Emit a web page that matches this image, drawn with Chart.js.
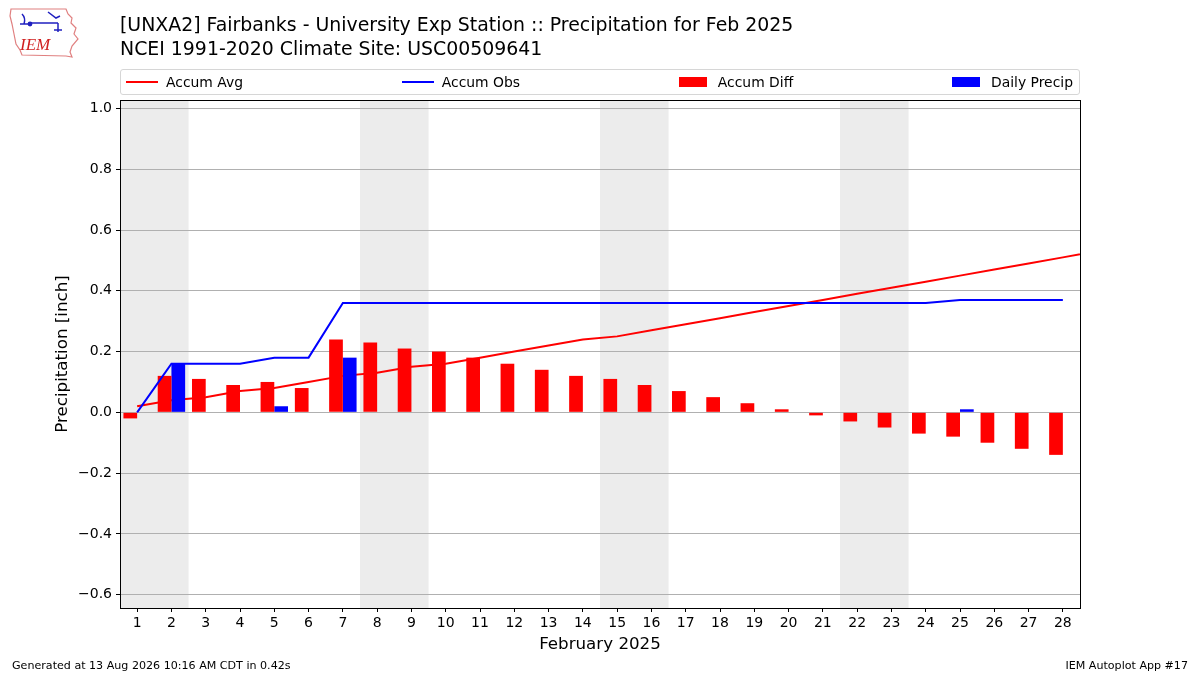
<!DOCTYPE html>
<html>
<head>
<meta charset="utf-8">
<script src="https://cdn.jsdelivr.net/npm/chart.js@4.4.1/dist/chart.umd.min.js"></script>
<style>
  body { margin: 0; background: #fff; font-family: "DejaVu Sans", sans-serif; }
  #wrap { position: relative; width: 1200px; height: 675px; overflow: hidden; }
  #chart { position: absolute; left: 0; top: 0; }
  .title { position: absolute; left: 120px; top: 12px; font-size: 18.9px; line-height: 24px; color: #000; white-space: nowrap; }
  .legend { position: absolute; left: 120px; top: 69px; width: 960px; height: 26px; border: 1px solid #d6d6d6; border-radius: 3px;
            display: flex; justify-content: space-between; align-items: center; padding: 0 6px 0 5px; box-sizing: border-box; font-size: 13.9px; }
  .legend .item { display: flex; align-items: center; white-space: nowrap; }
  .legend .line { width: 32px; height: 2px; margin-right: 8px; }
  .legend .patch { width: 28px; height: 10px; margin-right: 11px; }
  .foot { position: absolute; top: 659px; font-size: 11.1px; color: #000; white-space: nowrap; }
  #logo { position: absolute; left: 8px; top: 6px; }
</style>
</head>
<body>
<div id="wrap">
  <canvas id="chart" width="1200" height="675"></canvas>
  <svg id="logo" width="72" height="54" viewBox="0 0 72 54">
    <path d="M3 3 L58 3 L60 8 L64 12 L63 17 L68 22 L66 28 L70 33 L64 40 L62 46 L64 51 L58 50 L14 49 L12 44 L8 38 L6 28 L4 18 L2 10 Z"
          fill="none" stroke="#e08080" stroke-width="1.2"/>
    <path d="M14 8 Q18 12 16 18 M12 18 L22 18 M22 17 L50 17 M40 6 L48 12 L52 10 M50 17 L50 26 M46 24 L54 24"
          fill="none" stroke="#2020c0" stroke-width="1.5"/>
    <circle cx="22" cy="18" r="2.4" fill="#2020c0"/>
    <text x="12" y="44" font-family="Liberation Serif, serif" font-style="italic" font-size="17" fill="#d02020">IEM</text>
  </svg>
  <div class="title">[UNXA2] Fairbanks - University Exp Station :: Precipitation for Feb 2025<br>NCEI 1991-2020 Climate Site: USC00509641</div>
  <div class="legend" id="legend"></div>
  <div class="foot" style="left:12px">Generated at 13 Aug 2026 10:16 AM CDT in 0.42s</div>
  <div class="foot" style="right:12px">IEM Autoplot App #17</div>
</div>
<script>
// days of February 2025
const days = [1, 2, 3, 4, 5, 6, 7, 8, 9, 10, 11, 12, 13, 14, 15, 16, 17, 18, 19, 20, 21, 22, 23, 24, 25, 26, 27, 28];
// climatology accumulation, runs one day past the month end
const accumAvg = [0.02, 0.04, 0.05, 0.07, 0.08, 0.10, 0.12, 0.13, 0.15, 0.16, 0.18, 0.20, 0.22, 0.24, 0.25,
                  0.27, 0.29, 0.31, 0.33, 0.35, 0.37, 0.39, 0.41, 0.43, 0.45, 0.47, 0.49, 0.51, 0.53];
const accumObs = [0.00, 0.16, 0.16, 0.16, 0.18, 0.18, 0.36, 0.36, 0.36, 0.36, 0.36, 0.36, 0.36, 0.36,
                  0.36, 0.36, 0.36, 0.36, 0.36, 0.36, 0.36, 0.36, 0.36, 0.36, 0.37, 0.37, 0.37, 0.37];
const accumDiff = [-0.02, 0.12, 0.11, 0.09, 0.10, 0.08, 0.24, 0.23, 0.21, 0.20, 0.18, 0.16, 0.14, 0.12,
                   0.11, 0.09, 0.07, 0.05, 0.03, 0.01, -0.01, -0.03, -0.05, -0.07, -0.08, -0.10, -0.12, -0.14];
const dailyPrecip = [0, 0.16, 0, 0, 0.02, 0, 0.18, 0, 0, 0, 0, 0, 0, 0,
                     0, 0, 0, 0, 0, 0, 0, 0, 0, 0, 0.01, 0, 0, 0];
const weekendDays = [1, 2, 8, 9, 15, 16, 22, 23];
const yTicks = [-0.6, -0.4, -0.2, 0.0, 0.2, 0.4, 0.6, 0.8, 1.0];

const FONT = "DejaVu Sans";
const RED = "#ff0000";
const BLUE = "#0000ff";

// legend, laid out like matplotlib's expanded legend
const legendItems = [
    { label: "Accum Avg", color: RED, kind: "line" },
    { label: "Accum Obs", color: BLUE, kind: "line" },
    { label: "Accum Diff", color: RED, kind: "patch" },
    { label: "Daily Precip", color: BLUE, kind: "patch" }
];
const legendEl = document.getElementById("legend");
legendItems.forEach(it => {
    const d = document.createElement("div");
    d.className = "item";
    d.innerHTML = `<span class="${it.kind}" style="background:${it.color}"></span><span>${it.label}</span>`;
    legendEl.appendChild(d);
});

// grey shading behind weekend days
const weekendShade = {
    id: "weekendShade",
    beforeDraw(chart) {
        const { ctx, chartArea, scales: { x } } = chart;
        ctx.save();
        ctx.fillStyle = "#ececec";
        let i = 0;
        while (i < weekendDays.length) {
            let j = i;
            while (j + 1 < weekendDays.length && weekendDays[j + 1] === weekendDays[j] + 1) j++;
            const x0 = x.getPixelForValue(weekendDays[i] - 0.5);
            const x1 = x.getPixelForValue(weekendDays[j] + 0.5);
            const l = Math.max(x0, chartArea.left), r = Math.min(x1, chartArea.right);
            ctx.fillRect(l, chartArea.top, r - l, chartArea.bottom - chartArea.top);
            i = j + 1;
        }
        ctx.restore();
    }
};

// black box around the plot area
const frame = {
    id: "frame",
    afterDraw(chart) {
        const { ctx, chartArea: a } = chart;
        ctx.save();
        ctx.strokeStyle = "#000";
        ctx.lineWidth = 1;
        ctx.strokeRect(Math.round(a.left) + 0.5, Math.round(a.top) + 0.5,
                       Math.round(a.right - a.left), Math.round(a.bottom - a.top));
        ctx.restore();
    }
};

const fmt = v => (v < -1e-9 ? "\u2212" : "") + Math.abs(v).toFixed(1);

new Chart(document.getElementById("chart"), {
    type: "bar",
    data: {
        datasets: [
            {
                type: "line", label: "Accum Avg",
                data: accumAvg.map((v, i) => ({ x: i + 1, y: v })),
                borderColor: RED, borderWidth: 2, pointRadius: 0, tension: 0, order: 2
            },
            {
                type: "line", label: "Accum Obs",
                data: days.map((d, i) => ({ x: d, y: accumObs[i] })),
                borderColor: BLUE, borderWidth: 2, pointRadius: 0, tension: 0, order: 0
            },
            {
                label: "Accum Diff",
                data: days.map((d, i) => ({ x: d, y: accumDiff[i] })),
                backgroundColor: RED, borderWidth: 0, order: 1,
                categoryPercentage: 0.8, barPercentage: 1.0
            },
            {
                label: "Daily Precip",
                data: days.map((d, i) => ({ x: d, y: dailyPrecip[i] })),
                backgroundColor: BLUE, borderWidth: 0, order: 1,
                categoryPercentage: 0.8, barPercentage: 1.0
            }
        ]
    },
    options: {
        responsive: false,
        animation: false,
        devicePixelRatio: 1,
        layout: { padding: { left: 53, top: 100, right: 120, bottom: 20 } },
        plugins: {
            legend: { display: false },
            tooltip: { enabled: false },
            title: { display: false }
        },
        scales: {
            x: {
                type: "linear",
                min: 0.5, max: 28.5,
                offset: false,
                afterBuildTicks: s => { s.ticks = days.map(d => ({ value: d })); },
                afterFit: s => { s.height = 47; },
                ticks: {
                    autoSkip: false, maxRotation: 0, padding: 3,
                    color: "#000", font: { family: FONT, size: 14 },
                    callback: v => String(v)
                },
                grid: { offset: false, drawOnChartArea: false, color: "#000", tickLength: 4 },
                border: { display: false },
                title: {
                    display: true, text: "February 2025", color: "#000",
                    font: { family: FONT, size: 16.7 }, padding: { top: 0, bottom: 0 }
                }
            },
            y: {
                min: -0.644, max: 1.028,
                afterBuildTicks: s => { s.ticks = yTicks.map(v => ({ value: v })); },
                afterFit: s => { s.width = 67; },
                ticks: {
                    padding: 4, color: "#000", font: { family: FONT, size: 14 },
                    callback: v => fmt(v)
                },
                grid: { color: "#b0b0b0", tickColor: "#000", tickLength: 4, lineWidth: 1 },
                border: { display: false },
                title: {
                    display: true, text: "Precipitation [inch]", color: "#000",
                    font: { family: FONT, size: 16.7 }, padding: { top: 0, bottom: 0 }
                }
            }
        }
    },
    plugins: [weekendShade, frame]
});
</script>
</body>
</html>
